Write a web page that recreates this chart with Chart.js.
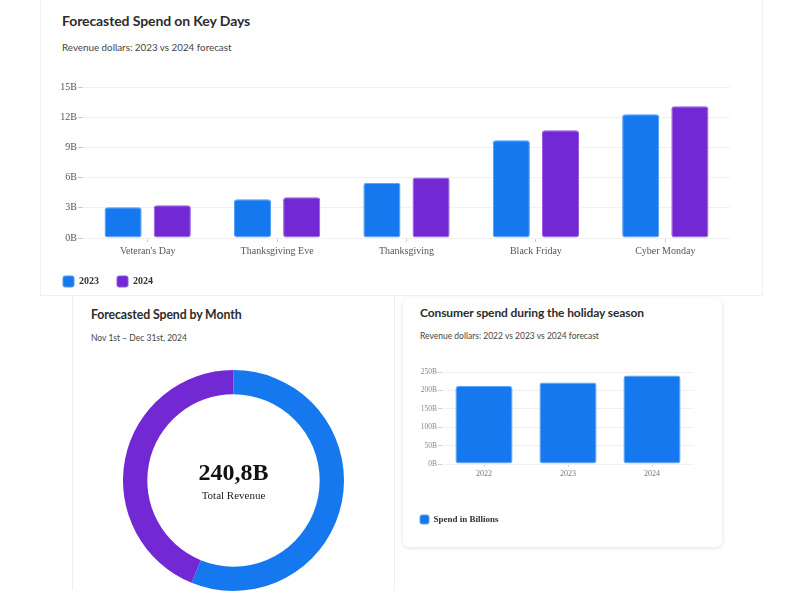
<!DOCTYPE html>
<html>
<head>
<meta charset="utf-8">
<script src="https://cdn.jsdelivr.net/npm/chart.js@4/dist/chart.umd.min.js"></script>
<style>
  html, body { margin:0; padding:0; background:#fff; }
  body { width:800px; height:600px; position:relative; overflow:hidden; font-family: Lato, "Open Sans", sans-serif; }
  .card { position:absolute; background:#fff; box-sizing:border-box; }
  #cardTop { left:40px; top:-2px; width:723px; height:298px; border:1px solid #f0f0f0; }
  #cardLeft { left:72px; top:296px; width:323px; height:294px; border-left:1px solid #eeeeee; border-right:1px solid #eeeeee; }
  #cardRight { left:403px; top:298px; width:319px; height:249px; border-radius:6px; box-shadow:0 1px 4px rgba(0,0,0,0.13); }
  .title { position:absolute; font-weight:700; color:#2c2c2c; white-space:nowrap; letter-spacing:-0.1px; }
  .sub { position:absolute; color:#444; white-space:nowrap; }
  .wrap { position:absolute; }
  #centerText { position:absolute; left:123px; width:221px; text-align:center; font-family:"Liberation Serif", serif; color:#111; }
</style>
</head>
<body>
<div class="card" id="cardTop"></div>
<div class="card" id="cardLeft"></div>
<div class="card" id="cardRight"></div>

<div class="title" style="left:62px; top:12px; font-size:14px;">Forecasted Spend on Key Days</div>
<div class="sub" style="left:62px; top:41px; font-size:9.8px;">Revenue dollars: 2023 vs 2024 forecast</div>

<div class="title" style="left:91px; top:307px; font-size:12.3px;">Forecasted Spend by Month</div>
<div class="sub" style="left:91px; top:333px; font-size:8.5px;">Nov 1st – Dec 31st, 2024</div>

<div class="title" style="left:420px; top:305px; font-size:12px;">Consumer spend during the holiday season</div>
<div class="sub" style="left:420px; top:331px; font-size:8.5px;">Revenue dollars: 2022 vs 2023 vs 2024 forecast</div>

<div class="wrap" style="left:40px; top:70px; width:723px; height:227px;"><canvas id="c1"></canvas></div>
<div class="wrap" style="left:123px; top:370px; width:221px; height:221px;"><canvas id="c2"></canvas></div>
<div class="wrap" style="left:410px; top:360px; width:300px; height:174px;"><canvas id="c3"></canvas></div>

<div id="centerText" style="top:458px;">
  <div id="totalValue" style="font-weight:700; font-size:24px; line-height:28px;"></div>
  <div style="font-size:11px; line-height:14px; margin-top:2px; color:#222;">Total Revenue</div>
</div>

<script>
// ---- Data ----
const keyDays = ["Veteran's Day", "Thanksgiving Eve", "Thanksgiving", "Black Friday", "Cyber Monday"];
const spend2023 = [3.05, 3.86, 5.5, 9.7, 12.3];   // billions
const spend2024 = [3.25, 4.06, 6.0, 10.7, 13.1];  // billions
const keyDayTicks = [0, 3, 6, 9, 12, 15];

const months = ["November", "December"];
const monthSpend = [135.3, 105.5];                // billions
const totalLabel = "240,8B";

const seasonYears = ["2022", "2023", "2024"];
const seasonSpend = [211.7, 221.8, 240.8];        // billions
const seasonTicks = [0, 50, 100, 150, 200, 250];

// ---- Styles ----
const BLUE = '#1578ee';
const PURPLE = '#7228d2';
const SERIF = '"Liberation Serif", "Times New Roman", serif';
Chart.defaults.font.family = SERIF;
Chart.defaults.animation = false;

document.getElementById('totalValue').textContent = totalLabel;

// ---- Chart 1: key days ----
new Chart(document.getElementById('c1'), {
  type: 'bar',
  data: {
    labels: keyDays,
    datasets: [
      { label: '2023', data: spend2023, backgroundColor: BLUE, borderColor: '#4d9bf5', borderWidth: 1, borderRadius: 3, borderSkipped: false,
        categoryPercentage: 0.76, barPercentage: 0.755 },
      { label: '2024', data: spend2024, backgroundColor: PURPLE, borderColor: '#9457e0', borderWidth: 1, borderRadius: 3, borderSkipped: false,
        categoryPercentage: 0.76, barPercentage: 0.755 }
    ]
  },
  options: {
    responsive: true, maintainAspectRatio: false,
    layout: { padding: { left: 5, right: 33, top: 17, bottom: 0 } },
    plugins: {
      tooltip: { enabled: false },
      legend: {
        position: 'bottom', align: 'start',
        labels: { boxWidth: 11, boxHeight: 11, padding: 18, useBorderRadius: true, borderRadius: 2,
          color: '#333', font: { family: SERIF, size: 10, weight: 'bold' } }
      }
    },
    scales: {
      x: {
        afterFit: s => { s.height = 20; },
        grid: { display: true, drawOnChartArea: false, drawTicks: true, tickLength: 4, offset: false, color: '#cfcfcf' },
        border: { display: false },
        ticks: { color: '#555', padding: 3, font: { size: 10 } }
      },
      y: {
        min: 0, max: 15,
        afterFit: s => { s.width = 38; },
        afterBuildTicks: s => { s.ticks = keyDayTicks.map(v => ({ value: v })); },
        grid: { color: '#f1f1f1', drawTicks: true, tickLength: 5, tickColor: '#c8c8c8' },
        border: { display: false },
        ticks: { color: '#555', padding: 1, font: { size: 10 }, callback: v => v + 'B' }
      }
    }
  }
});

// ---- Chart 2: doughnut ----
new Chart(document.getElementById('c2'), {
  type: 'doughnut',
  data: {
    labels: months,
    datasets: [{ data: monthSpend, backgroundColor: [BLUE, PURPLE], borderWidth: 0 }]
  },
  options: {
    responsive: true, maintainAspectRatio: false,
    cutout: '78%',
    layout: { padding: 0 },
    plugins: { legend: { display: false }, tooltip: { enabled: false } }
  }
});

// ---- Chart 3: holiday season ----
new Chart(document.getElementById('c3'), {
  type: 'bar',
  data: {
    labels: seasonYears,
    datasets: [
      { label: 'Spend in Billions', data: seasonSpend, backgroundColor: BLUE, borderColor: '#5aa3f6', borderWidth: 1, borderRadius: 3, borderSkipped: false,
        categoryPercentage: 0.8, barPercentage: 0.85 }
    ]
  },
  options: {
    responsive: true, maintainAspectRatio: false,
    layout: { padding: { left: 0, right: 16, top: 12, bottom: 0 } },
    plugins: {
      tooltip: { enabled: false },
      legend: {
        position: 'bottom', align: 'start',
        labels: { boxWidth: 9, boxHeight: 9, padding: 10, useBorderRadius: true, borderRadius: 2,
          color: '#333', font: { family: SERIF, size: 9, weight: 'bold' } }
      }
    },
    scales: {
      x: {
        afterFit: s => { s.height = 41; },
        grid: { display: true, drawOnChartArea: false, drawTicks: true, tickLength: 3, offset: false, color: '#d5d5d5' },
        border: { display: false },
        ticks: { color: '#777', padding: 2, font: { size: 8 } }
      },
      y: {
        min: 0, max: 250,
        afterFit: s => { s.width = 32; },
        afterBuildTicks: s => { s.ticks = seasonTicks.map(v => ({ value: v })); },
        grid: { color: '#f1f1f1', drawTicks: true, tickLength: 4, tickColor: '#cfcfcf' },
        border: { display: false },
        ticks: { color: '#888', padding: 1, font: { size: 7.5 }, callback: v => v + 'B' }
      }
    }
  }
});
</script>
</body>
</html>
